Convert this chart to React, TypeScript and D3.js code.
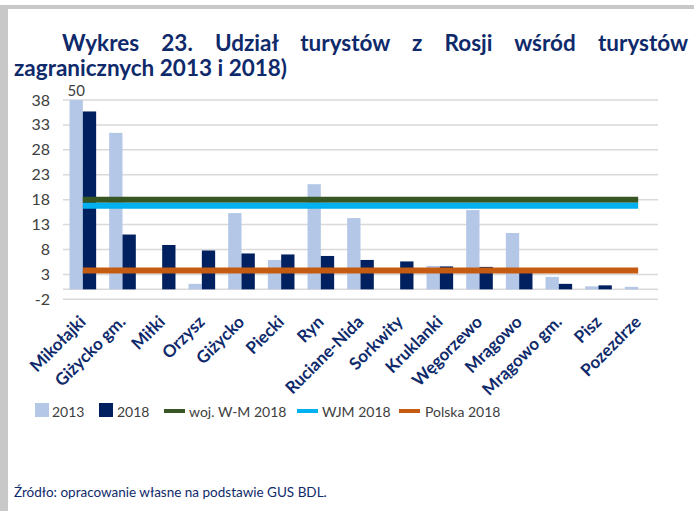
import React, { useLayoutEffect, useRef, useState } from "react";
import * as d3 from "d3";

const categories = [
  "Mikołajki", "Giżycko gm.", "Miłki", "Orzysz", "Giżycko", "Piecki", "Ryn",
  "Ruciane-Nida", "Sorkwity", "Kruklanki", "Węgorzewo", "Mrągowo",
  "Mrągowo gm.", "Pisz", "Pozezdrze",
];
// 2013 value of Mikołajki is 50, cut off at the top of the axis
const values2013 = [50, 31.4, 0, 1.1, 15.3, 5.9, 21.1, 14.3, 0, 4.7, 15.9, 11.3, 2.5, 0.6, 0.5];
const values2018 = [35.7, 11.0, 8.9, 7.8, 7.2, 7.0, 6.7, 5.9, 5.6, 4.6, 4.5, 3.3, 1.1, 0.8, 0];
const wojWM2018 = 18.0;
const wjm2018 = 16.8;
const polska2018 = 3.8;
const yTicks = [-2, 3, 8, 13, 18, 23, 28, 33, 38];

const title1 = "Wykres 23. Udział turystów z Rosji wśród turystów";
const title2 = "zagranicznych 2013 i 2018)";
const source = "Źródło: opracowanie własne na podstawie GUS BDL.";

const W = 694;
const H = 511;
const navy = "#0f2a6b";
const c2013 = "#b4c7e7";
const c2018 = "#002060";
const cWM = "#375623";
const cWJM = "#00b0f0";
const cPL = "#c55a11";
const font = "Lato, 'Noto Sans', sans-serif";

export default function App() {
  const titleRef = useRef<SVGTextElement>(null);
  const [wordSpacing, setWordSpacing] = useState(0);
  const titleX1 = 62;
  const titleX2 = 688;

  useLayoutEffect(() => {
    // justify first title line like the original
    if (titleRef.current && wordSpacing === 0) {
      const len = titleRef.current.getComputedTextLength();
      const gaps = title1.split(" ").length - 1;
      setWordSpacing((titleX2 - titleX1 - len) / gaps);
    }
  }, [wordSpacing]);

  const x = d3.scaleBand<string>().domain(categories).range([63, 658]);
  const sub = d3.scaleBand<string>().domain(["2013", "2018"]).range([0, x.bandwidth()]).paddingInner(0).paddingOuter(0.49);
  const y = d3.scaleLinear().domain([-2, 38]).range([299.3, 100]);
  const yMax = 38;

  const lineX1 = (x(categories[0]) ?? 0) + x.bandwidth() / 2;
  const lineX2 = (x(categories[categories.length - 1]) ?? 0) + x.bandwidth() / 2;

  const bar = (v: number, key: string, cat: string, color: string, i: number) => {
    if (!v) return null;
    const vv = Math.min(v, yMax);
    return (
      <rect key={key + i} x={(x(cat) ?? 0) + (sub(key) ?? 0)} y={y(vv)} width={sub.bandwidth()} height={y(0) - y(vv)} fill={color} />
    );
  };

  const legend = [
    { type: "rect", label: "2013", color: c2013, x: 35, tx: 52 },
    { type: "rect", label: "2018", color: c2018, x: 99, tx: 117 },
    { type: "line", label: "woj. W-M 2018", color: cWM, x: 164, tx: 189 },
    { type: "line", label: "WJM 2018", color: cWJM, x: 297, tx: 322 },
    { type: "line", label: "Polska 2018", color: cPL, x: 399, tx: 425 },
  ];

  return (
    <svg width={W} height={H} style={{ position: "absolute", left: 0, top: 0, background: "#fff" }} fontFamily={font}>
      <rect x={0} y={0} width={W} height={H} fill="#fff" />
      <rect x={0} y={5} width={W} height={4} fill="#c8c8c8" />
      <rect x={0} y={5} width={8} height={H - 5} fill="#c8c8c8" />

      <text ref={titleRef} x={titleX1} y={51} fontSize={22.5} fontWeight="bold" fill={navy} style={{ wordSpacing: wordSpacing + "px" }}>
        {title1}
      </text>
      <text x={14} y={76} fontSize={22.5} fontWeight="bold" fill={navy}>
        {title2}
      </text>

      {yTicks.map((t) => (
        <g key={t}>
          <line x1={63} x2={658} y1={y(t)} y2={y(t)} stroke="#d9d9d9" strokeWidth={1.5} />
          <text x={50} y={y(t) + 5.5} fontSize={16} fill="#404040" textAnchor="end">{t}</text>
        </g>
      ))}
      <line x1={63} x2={658} y1={y(0)} y2={y(0)} stroke="#d9d9d9" strokeWidth={1.5} />

      {categories.map((c, i) => bar(values2013[i], "2013", c, c2013, i))}
      {categories.map((c, i) => bar(values2018[i], "2018", c, c2018, i))}

      <text x={(x(categories[0]) ?? 0) + (sub("2013") ?? 0) + sub.bandwidth() / 2} y={y(yMax) - 4} fontSize={15} fill="#404040" textAnchor="middle">
        {values2013[0]}
      </text>

      <line x1={lineX1} x2={lineX2} y1={y(wojWM2018)} y2={y(wojWM2018)} stroke={cWM} strokeWidth={6} />
      <line x1={lineX1} x2={lineX2} y1={y(wjm2018)} y2={y(wjm2018)} stroke={cWJM} strokeWidth={6} />
      <line x1={lineX1} x2={lineX2} y1={y(polska2018)} y2={y(polska2018)} stroke={cPL} strokeWidth={6} />

      {categories.map((c) => {
        const cx = (x(c) ?? 0) + x.bandwidth() / 2 + 4;
        return (
          <text key={c} transform={`translate(${cx},323) rotate(-45)`} textAnchor="end" fontSize={17} fontWeight="bold" fill={navy}>
            {c}
          </text>
        );
      })}

      {legend.map((l) => (
        <g key={l.label}>
          {l.type === "rect" ? (
            <rect x={l.x} y={403} width={14} height={14} fill={l.color} />
          ) : (
            <rect x={l.x} y={409} width={21} height={4} fill={l.color} />
          )}
          <text x={l.tx} y={417} fontSize={14} fill="#404040">{l.label}</text>
        </g>
      ))}

      <text x={14} y={497} fontSize={13.5} fill={navy}>
        {source}
      </text>
    </svg>
  );
}
